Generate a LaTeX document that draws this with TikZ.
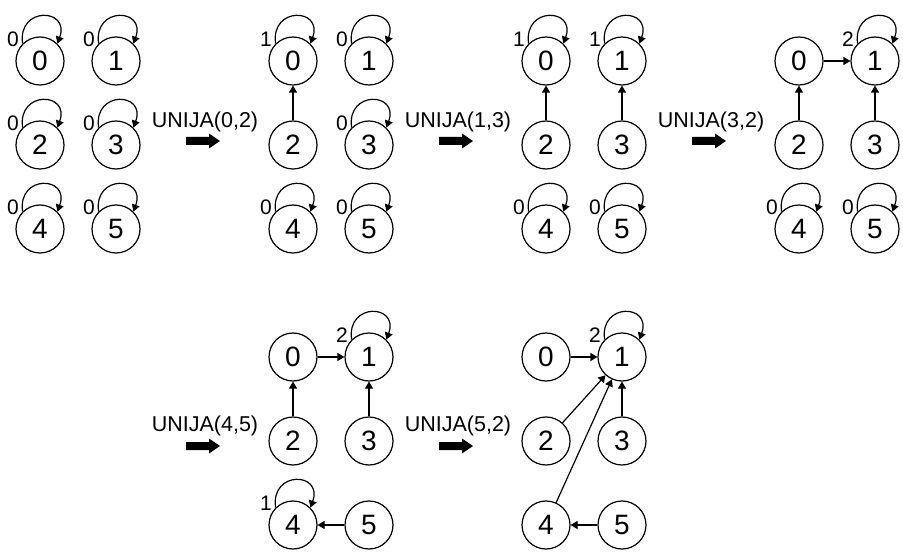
\documentclass[tikz,border=0pt]{standalone}
\usepackage{fontspec}
\setmainfont{Liberation Sans}
\usetikzlibrary{arrows.meta,calc}
\newcommand\mkpanel[3]{%
  \node[vert] (#10) at (#2,#3) {0};
  \node[vert] (#11) at (#2+76,#3) {1};
  \node[vert] (#12) at (#2,#3-84) {2};
  \node[vert] (#13) at (#2+76,#3-84) {3};
  \node[vert] (#14) at (#2,#3-168) {4};
  \node[vert] (#15) at (#2+76,#3-168) {5};
}
\newcommand\selfloop[2]{%
  \draw[edge] (#1.135) .. controls +(98:38) and +(70:38) .. (#1.45);
  \node[lbl] at ($(#1.center)+(-27,22)$) {#2};
}
\newcommand\bigarrow[2]{%
  \fill (#1,#2+4) -- (#1+23,#2+4) -- (#1+23,#2+7.5) -- (#1+34,#2) -- (#1+23,#2-7.5) -- (#1+23,#2-4) -- (#1,#2-4) -- cycle;
}
\begin{document}
\begin{tikzpicture}[x=1pt,y=1pt,
  vert/.style={circle,draw,line width=1.2pt,minimum size=48pt,inner sep=0pt,font=\fontsize{28}{28}\selectfont},
  edge/.style={line width=1.2pt,-{Triangle[length=7pt,width=8pt]}},
  lbl/.style={font=\fontsize{21}{21}\selectfont,inner sep=0pt},
  op/.style={font=\fontsize{21.5}{21.5}\selectfont,inner sep=0pt}]
\useasboundingbox (0,0) rectangle (903,-556);
% panel 1
\mkpanel{a}{40}{-61}
\foreach \i in {0,...,5}{\selfloop{a\i}{0}}
% panel 2
\mkpanel{b}{293}{-61}
\selfloop{b0}{1}\selfloop{b1}{0}\selfloop{b3}{0}\selfloop{b4}{0}\selfloop{b5}{0}
\draw[edge] (b2) -- (b0);
% panel 3
\mkpanel{c}{546}{-61}
\selfloop{c0}{1}\selfloop{c1}{1}\selfloop{c4}{0}\selfloop{c5}{0}
\draw[edge] (c2) -- (c0);
\draw[edge] (c3) -- (c1);
% panel 4
\mkpanel{d}{799}{-61}
\selfloop{d1}{2}\selfloop{d4}{0}\selfloop{d5}{0}
\draw[edge] (d0) -- (d1);
\draw[edge] (d2) -- (d0);
\draw[edge] (d3) -- (d1);
% panel 5
\mkpanel{e}{293}{-357}
\selfloop{e1}{2}\selfloop{e4}{1}
\draw[edge] (e0) -- (e1);
\draw[edge] (e2) -- (e0);
\draw[edge] (e3) -- (e1);
\draw[edge] (e5) -- (e4);
% panel 6
\mkpanel{f}{546}{-357}
\selfloop{f1}{2}
\draw[edge] (f0) -- (f1);
\draw[edge] (f2) -- (f1);
\draw[edge] (f3) -- (f1);
\draw[edge] (f4) -- (f1);
\draw[edge] (f5) -- (f4);
% operations
\node[op] (u1) at (205,-121.5) {UNIJA(0,2)};
\node[op] (u2) at (458,-121.5) {UNIJA(1,3)};
\node[op] (u3) at (711,-121.5) {UNIJA(3,2)};
\node[op] (u4) at (205,-426) {UNIJA(4,5)};
\node[op] (u5) at (458,-426) {UNIJA(5,2)};
\bigarrow{186}{-141}
\bigarrow{439}{-141}
\bigarrow{692}{-141}
\bigarrow{186}{-446}
\bigarrow{439}{-446}
\end{tikzpicture}
\end{document}
